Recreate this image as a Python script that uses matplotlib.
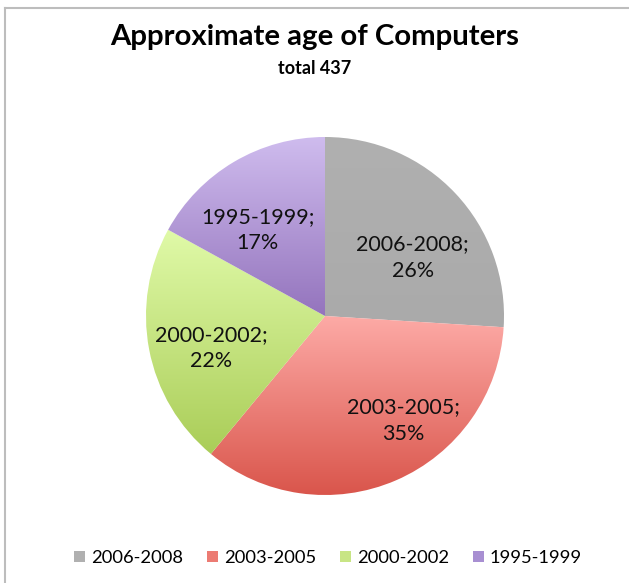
import matplotlib
matplotlib.use("Agg")
import matplotlib.pyplot as plt
import numpy as np
from matplotlib.colors import LinearSegmentedColormap
from matplotlib.patches import Rectangle
from matplotlib.lines import Line2D

plt.rcParams['font.family'] = ['Lato', 'DejaVu Sans']

categories = ["2006-2008", "2003-2005", "2000-2002", "1995-1999"]
percents = [26, 35, 22, 17]
title = "Approximate age of Computers"
subtitle = "total 437"

top_colors = ["#b0b0b0", "#fdaaa6", "#e0faa8", "#cfbcee"]
bottom_colors = ["#aaaaaa", "#d9544a", "#aacd58", "#9474bd"]
legend_colors = ["#b0b0b0", "#ec7b73", "#c8e585", "#a88fd2"]
# label positions: (angle deg, radius fraction)
label_pos = [(33.7, 0.59), (-53.0, 0.73), (195.7, 0.66), (128.0, 0.61)]

W, H = 629, 583
fig = plt.figure(figsize=(W / 100, H / 100), dpi=100)
fig.patch.set_facecolor("white")

# chart frame (left and top edges visible)
fig.add_artist(Line2D([5 / W, 5 / W], [0, 1 - 8 / H], transform=fig.transFigure,
                      color="#bdbdbd", lw=1.5))
fig.add_artist(Line2D([5 / W, 1.02], [1 - 8 / H, 1 - 8 / H], transform=fig.transFigure,
                      color="#bdbdbd", lw=1.5))

cx, cy, r = 325, 316, 179
ax = fig.add_axes([(cx - r) / W, 1 - (cy + r) / H, 2 * r / W, 2 * r / H])
wedges, _ = ax.pie(percents, startangle=90, counterclock=False, radius=1,
                   wedgeprops=dict(linewidth=0))
ax.set_aspect("equal")
ax.axis("off")

for w, tc, bc in zip(wedges, top_colors, bottom_colors):
    w.set_facecolor("none")
    verts = w.get_path().vertices
    ymin, ymax = verts[:, 1].min(), verts[:, 1].max()
    cmap = LinearSegmentedColormap.from_list("g", [bc, tc])
    grad = np.linspace(0, 1, 256).reshape(-1, 1)
    im = ax.imshow(grad, cmap=cmap, origin="lower", aspect="auto",
                   extent=[-1, 1, ymin, ymax], interpolation="bilinear", zorder=1)
    im.set_clip_path(w)
ax.set_xlim(-1, 1)
ax.set_ylim(-1, 1)

for cat, p, (ang, rad) in zip(categories, percents, label_pos):
    a = np.deg2rad(ang)
    ax.text(rad * np.cos(a), rad * np.sin(a), f"{cat};\n{p}%", ha="center", va="center",
            fontsize=15.5, color="#111111", linespacing=1.4, zorder=5)

fig.text(0.5, 1 - 37 / H, title, ha="center", va="center", fontsize=21.2,
         fontweight="bold", color="black")
fig.text(0.5, 1 - 69 / H, subtitle, ha="center", va="center", fontsize=13,
         fontweight="bold", color="black")

handles = [Rectangle((0, 0), 1, 1, facecolor=c, edgecolor="none") for c in legend_colors]
fig.legend(handles, categories, loc="center", bbox_to_anchor=(328 / W, 1 - 558 / H),
           ncol=4, frameon=False, fontsize=13.2, handlelength=0.6, handleheight=0.6,
           handletextpad=0.32, columnspacing=1.3, borderpad=0)

fig.savefig("out.png", dpi=100, facecolor="white")
